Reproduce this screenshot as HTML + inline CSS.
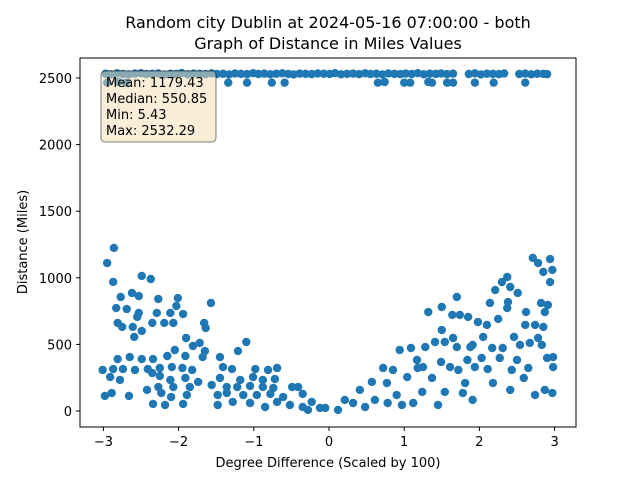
<!DOCTYPE html>
<html><head><meta charset="utf-8"><style>
body{margin:0;background:#fff;}
svg{display:block;font-family:"DejaVu Sans","Liberation Sans",sans-serif;}
</style></head><body>
<svg id="chart" width="640" height="480">
<rect width="640" height="480" fill="#fff"/>
<text x="328" y="28" text-anchor="middle" font-size="16">Random city Dublin at 2024-05-16 07:00:00  - both</text>
<text x="328" y="49" text-anchor="middle" font-size="16">Graph of Distance in Miles Values</text>
<g id="marks"></g>
<rect x="80" y="58" width="496" height="369" fill="none" stroke="#000" stroke-width="1"/>
<g id="axes"></g>
<text x="328" y="467" text-anchor="middle" font-size="13">Degree Difference (Scaled by 100)</text>
<text transform="translate(27,242) rotate(-90)" text-anchor="middle" font-size="13">Distance (Miles)</text>
<g>
<rect x="101" y="71" width="115" height="71" rx="4" fill="#f5deb3" fill-opacity="0.5" stroke="#000" stroke-opacity="0.5"/>
<text x="106" y="87" font-size="13">Mean: 1179.43</text>
<text x="106" y="103" font-size="13">Median: 550.85</text>
<text x="106" y="119" font-size="13">Min: 5.43</text>
<text x="106" y="135" font-size="13">Max: 2532.29</text>
</g>
</svg>
<script>
const xTicks=[-3,-2,-1,0,1,2,3];
const yTicks=[0,500,1000,1500,2000,2500];
const lowX=[-2.86,-2.95,-2.87,-2.49,-2.37,-2.77,-2.62,-2.53,-2.27,-2.01,-1.57,-2.03,-2.83,-2.69,-2.53,-2.29,-2.11,-1.94,-2.81,-2.55,-2.35,-2.19,-2.07,-1.66,-2.75,-2.61,-2.49,-1.64,-2.59,-1.90,-1.72,-1.10,-1.81,-1.21,-2.05,-1.65,-2.81,-2.65,-2.49,-2.34,-2.15,-1.91,-1.68,-1.45,-3.01,-2.87,-2.74,-2.58,-2.41,-2.25,-2.09,-1.95,-1.82,-1.41,-1.29,-0.98,-0.81,-0.69,-2.91,-2.78,-2.35,-2.25,-2.11,-1.91,-1.74,-1.45,-1.18,-1.01,-0.88,-0.72,-1.56,-2.42,-2.27,-2.07,-1.85,-1.36,-1.22,-1.05,-0.88,-0.74,-0.49,-0.41,-2.98,-2.89,-2.66,-2.23,-2.10,-1.89,-1.48,-1.36,-1.14,-0.96,-0.78,-0.61,-0.35,-2.34,-2.18,-1.94,-1.48,-1.28,-1.05,-0.85,-0.69,-0.52,-0.35,-0.23,-0.12,-0.28,
-0.05,0.12,0.21,0.32,0.41,0.48,0.57,0.61,0.72,0.77,0.85,0.90,0.78,0.97,0.94,1.04,1.09,1.12,1.17,1.18,1.25,1.24,1.28,1.32,1.37,1.41,1.45,1.50,1.50,1.54,1.49,1.54,1.61,1.65,1.70,1.64,1.70,1.72,1.74,1.78,1.81,1.85,1.84,1.88,1.91,1.94,1.91,1.98,2.03,2.05,2.10,2.11,2.14,2.17,2.18,2.21,2.25,2.27,2.30,2.31,2.37,2.37,2.38,2.41,2.43,2.41,2.46,2.51,2.50,2.54,2.59,2.62,2.61,2.65,2.67,2.71,2.74,2.74,2.78,2.78,2.82,2.85,2.85,2.87,2.87,2.94,2.97,2.94,2.98,2.98,2.97,2.90,2.83,2.91];
const lowY=[1224,1111,969,1014,991,856,886,863,841,848,811,788,773,766,736,736,736,728,661,706,661,661,661,661,631,631,601,623,556,548,511,518,488,450,458,450,390,405,390,390,413,413,405,405,308,315,315,308,315,323,330,323,308,330,315,315,308,323,255,233,285,263,233,248,218,248,233,255,233,240,195,158,180,180,180,180,180,188,180,173,180,180,113,135,113,135,105,120,120,135,120,120,128,105,128,53,45,53,45,68,60,30,68,45,30,68,23,8,
23,8,83,60,158,30,218,83,323,210,308,120,60,45,458,255,473,60,383,323,330,143,480,743,248,518,45,608,781,518,368,143,330,548,856,721,480,308,721,135,210,706,383,480,496,330,83,668,398,556,646,315,811,473,210,908,691,398,968,473,1006,773,818,931,308,158,556,886,383,496,248,743,646,323,511,1149,646,120,548,1111,811,1044,631,743,158,1141,1059,968,405,330,135,398,496,796];
const highX=[-2.97,-2.90,-2.82,-2.74,-2.66,-2.58,-2.50,-2.43,-2.35,-2.27,-2.19,-2.11,-2.03,-1.96,-1.88,-1.80,-1.72,-1.64,-1.56,-1.49,-1.41,-1.33,-1.25,-1.17,-1.09,-1.01,-0.94,-0.86,-0.78,-0.70,-0.62,-0.54,-0.47,-0.39,-0.31,-0.23,-0.15,-0.07,0.01,0.08,0.16,0.24,0.32,0.40,0.48,0.55,0.63,0.71,0.79,0.87,0.95,1.02,1.10,1.18,1.26,1.34,1.42,1.49,1.57,1.65,1.86,1.94,2.02,2.10,2.18,2.26,2.33,2.53,2.61,2.69,2.77,2.85,2.90,
-1.34,-1.09,-0.76,-0.59,0.65,0.74,1.00,1.08,1.32,1.37,1.57,1.65,1.94,2.19,2.61,-2.95,-2.80,-2.70];
const highY=[2532,2528,2535,2530,2527,2533,2536,2529,2531,2534,2526,2532,2530,2537,2528,2533,2531,2529,2535,2530,2532,2527,2534,2531,2529,2536,2530,2533,2528,2532,2535,2530,2527,2533,2531,2529,2534,2532,2530,2536,2528,2531,2533,2529,2535,2530,2532,2527,2534,2531,2529,2533,2530,2536,2528,2532,2531,2534,2529,2533,2530,2535,2527,2532,2531,2529,2534,2530,2533,2528,2532,2531,2529,
2465,2465,2465,2465,2465,2470,2465,2465,2470,2465,2465,2465,2465,2465,2465,2465,2470,2465];
const NS='http://www.w3.org/2000/svg';
function sx(v){return 329+v*75.2;}
function sy(v){return 411-v*0.1332;}
const marks=document.getElementById('marks');
function dot(x,y){
  const c=document.createElementNS(NS,'circle');
  c.setAttribute('cx',sx(x));c.setAttribute('cy',sy(y));c.setAttribute('r',4.2);
  c.setAttribute('fill','#1f77b4');
  
  
  marks.appendChild(c);
}
for(let i=0;i<lowX.length;i++)dot(lowX[i],lowY[i]);
for(let i=0;i<highX.length;i++)dot(highX[i],highY[i]);
const axes=document.getElementById('axes');
xTicks.forEach(t=>{
  const l=document.createElementNS(NS,'line');
  l.setAttribute('x1',sx(t));l.setAttribute('x2',sx(t));l.setAttribute('y1',427);l.setAttribute('y2',431);l.setAttribute('stroke','#000');
  
  
  axes.appendChild(l);
  const tx=document.createElementNS(NS,'text');
  tx.setAttribute('x',sx(t));tx.setAttribute('y',446);tx.setAttribute('text-anchor','middle');tx.setAttribute('font-size','13');
  tx.textContent=t<0?'\u2212'+Math.abs(t):String(t);
  
  
  axes.appendChild(tx);
});
yTicks.forEach(t=>{
  const l=document.createElementNS(NS,'line');
  l.setAttribute('x1',76);l.setAttribute('x2',80);l.setAttribute('y1',sy(t));l.setAttribute('y2',sy(t));l.setAttribute('stroke','#000');
  
  
  axes.appendChild(l);
  const tx=document.createElementNS(NS,'text');
  tx.setAttribute('x',72);tx.setAttribute('y',sy(t)+5);tx.setAttribute('text-anchor','end');tx.setAttribute('font-size','13');
  tx.textContent=String(t);
  
  
  axes.appendChild(tx);
});
</script>
</body></html>
